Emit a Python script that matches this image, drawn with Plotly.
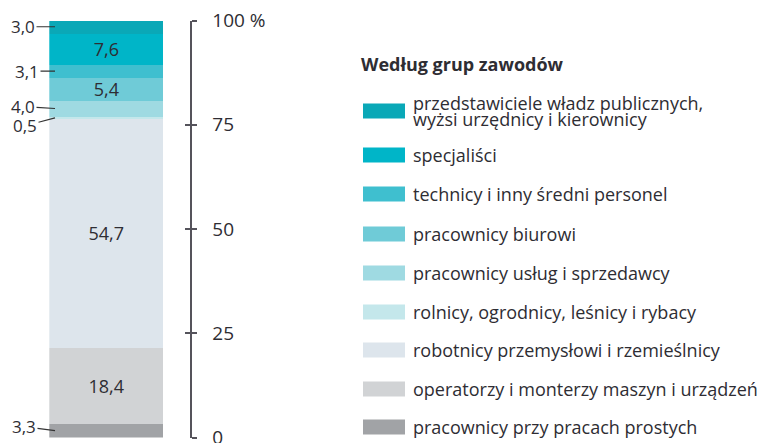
import plotly.graph_objects as go

# ---- data (bottom to top of the stacked bar) ----
categories = [
    "pracownicy przy pracach prostych",
    "operatorzy i monterzy maszyn i urządzeń",
    "robotnicy przemysłowi i rzemieślnicy",
    "rolnicy, ogrodnicy, leśnicy i rybacy",
    "pracownicy usług i sprzedawcy",
    "pracownicy biurowi",
    "technicy i inny średni personel",
    "specjaliści",
    "przedstawiciele władz publicznych,<br>wyżsi urzędnicy i kierownicy",
]
values = [3.3, 18.4, 54.7, 0.5, 4.0, 5.4, 3.1, 7.6, 3.0]
inside_label = [False, True, True, False, False, True, False, True, False]
tick_vals = [0, 25, 50, 75, 100]
tick_text = ["0", "25", "50", "75", "100 %"]
legend_title = "Według grup zawodów"

# ---- styles ----
colors = ["#a1a3a6", "#d1d3d5", "#dde5ec", "#c4e7eb", "#9fdae2",
          "#6fcbd7", "#3fbfcf", "#00b5c8", "#0aa8b7"]
# pixel offsets (ax, ay) for outside labels, by index
outside_offsets = {0: (-31, -4), 3: (-30, 8), 4: (-32, -2), 6: (-28, 0), 8: (-32, 0)}
FONT = "Open Sans"
TXT = "#2e2d33"
AXC = "#55535b"
W, H = 784, 443
OFF = 8  # page body margin of the html page


def px_x(x):
    return (x - OFF) / W


def px_y(y):
    return 1 - (y - OFF) / H


fmt = lambda v: f"{v:.1f}".replace(".", ",")

fig = go.Figure()
for i, (cat, v, col) in enumerate(zip(categories, values, colors)):
    fig.add_trace(go.Bar(
        x=[0], y=[v], width=[1], name=cat,
        marker=dict(color=col, line=dict(width=0)),
        text=[fmt(v)] if inside_label[i] else [""],
        textposition="inside", insidetextanchor="middle", constraintext="none",
        textfont=dict(family=FONT, size=18, color=TXT),
        showlegend=False, hoverinfo="skip",
    ))

# outside value labels with leader lines
cum = 0
annotations = []
for i, v in enumerate(values):
    mid = cum + v / 2
    cum += v
    if i in outside_offsets:
        ax, ay = outside_offsets[i]
        annotations.append(dict(
            x=-0.45, y=mid, xref="x", yref="y", text=fmt(v),
            showarrow=True, arrowhead=0, arrowwidth=1.2, arrowcolor="#333",
            ax=ax, ay=ay, standoff=0,
            font=dict(family=FONT, size=17, color=TXT),
        ))

# manual legend
legend_y_px = [427, 389, 350, 312, 273, 234, 194, 155, 111]
shapes = []
annotations.append(dict(
    x=px_x(359), y=px_y(64), xref="paper", yref="paper", xanchor="left", yanchor="middle",
    text=f"<b>{legend_title}</b>", showarrow=False,
    font=dict(family=FONT, size=18, color=TXT),
))
for i, (cat, col) in enumerate(zip(categories, colors)):
    yc = legend_y_px[i]
    shapes.append(dict(type="rect", xref="paper", yref="paper",
                       x0=px_x(363), x1=px_x(405), y0=px_y(yc + 7.5), y1=px_y(yc - 7.5),
                       fillcolor=col, line=dict(width=0)))
    lines = cat.split("<br>")
    n = len(lines)
    for j, line in enumerate(lines):
        ly = yc + (j - (n - 1) / 2) * 17
        annotations.append(dict(
            x=px_x(411), y=px_y(ly), xref="paper", yref="paper", xanchor="left", yanchor="middle",
            text=line, showarrow=False, align="left",
            font=dict(family=FONT, size=18, color=TXT),
        ))

ydom = [px_y(437.5), px_y(20.5)]
yrange = [0, 100]
fig.update_layout(
    width=W, height=H, margin=dict(l=0, r=0, t=0, b=0),
    paper_bgcolor="white", plot_bgcolor="white",
    barmode="stack", bargap=0,
    showlegend=False,
    xaxis=dict(domain=[px_x(49.3), px_x(189.5)], range=[-0.5, 0.73], visible=False, fixedrange=True),
    yaxis=dict(domain=ydom, range=yrange, side="right", anchor="x",
               tickvals=tick_vals, ticktext=tick_text, ticks="outside", ticklen=5,
               tickwidth=2, tickcolor=AXC, showline=True, linecolor=AXC,
               linewidth=2, showgrid=False, zeroline=False, automargin=False,
               ticklabelstandoff=12, ticklabeloverflow="allow",
               tickfont=dict(family=FONT, size=19, color=TXT)),
    yaxis2=dict(domain=ydom, range=yrange, overlaying="y", side="right", anchor="x",
                tickvals=tick_vals, ticks="inside", ticklen=5, tickwidth=2,
                tickcolor=AXC, showticklabels=False, showgrid=False, zeroline=False,
                showline=False, automargin=False),
    shapes=shapes, annotations=annotations,
)
# an empty trace so yaxis2 is drawn
fig.add_trace(go.Scatter(x=[None], y=[None], yaxis="y2", showlegend=False, hoverinfo="skip"))

fig.write_html("out.html")
